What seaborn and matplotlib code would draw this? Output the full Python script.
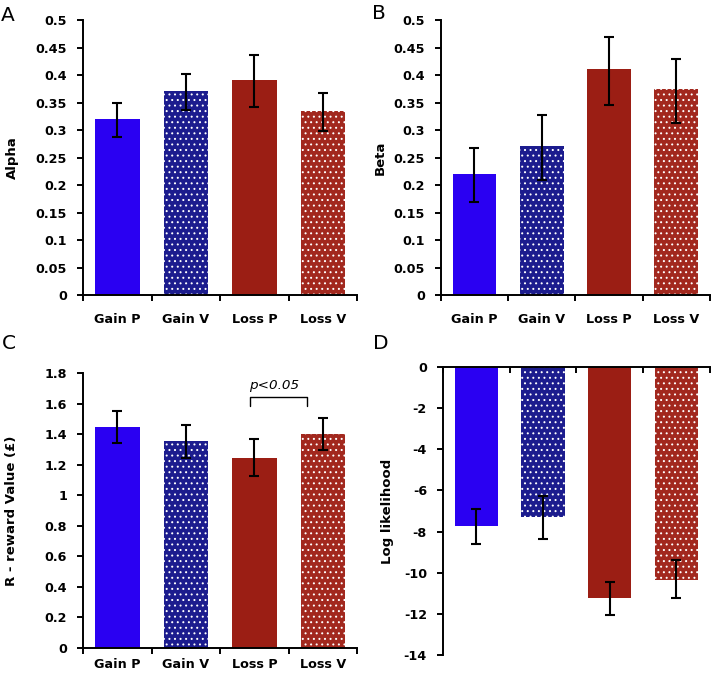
import numpy as np
import pandas as pd
import matplotlib
matplotlib.use("Agg")
import matplotlib.pyplot as plt
import seaborn as sns

groups = ["Gain P", "Gain V", "Loss P", "Loss V"]
colors = ["#2a00f2", "#1c1c8e", "#9b1e14", "#a2281e"]
dotted = [False, True, False, True]

alpha_mean = [0.320, 0.372, 0.392, 0.335]
alpha_low = [0.287, 0.337, 0.342, 0.298]
alpha_high = [0.350, 0.403, 0.436, 0.367]

beta_mean = [0.221, 0.271, 0.411, 0.375]
beta_low = [0.170, 0.210, 0.345, 0.313]
beta_high = [0.267, 0.328, 0.470, 0.430]

r_mean = [1.450, 1.355, 1.245, 1.405]
r_low = [1.340, 1.245, 1.125, 1.300]
r_high = [1.555, 1.460, 1.370, 1.510]

ll_mean = [-7.75, -7.30, -11.25, -10.35]
ll_low = [-8.60, -8.35, -12.05, -11.25]
ll_high = [-6.90, -6.25, -10.45, -9.40]

sns.set_style("ticks")
plt.rcParams["font.family"] = ["DejaVu Sans"]
plt.rcParams["axes.unicode_minus"] = False
plt.rcParams["hatch.linewidth"] = 0.7

fig = plt.figure(figsize=(7.12, 6.75), dpi=100)

panels = [
    dict(rect=[0.1166, 0.563, 0.385, 0.407], mean=alpha_mean, low=alpha_low, high=alpha_high,
         ylim=(0, 0.5), yticks=np.arange(0, 0.501, 0.05), ylabel="Alpha", letter="A", neg=False,
         labx=-0.234, xpad=13),
    dict(rect=[0.619, 0.563, 0.378, 0.407], mean=beta_mean, low=beta_low, high=beta_high,
         ylim=(0, 0.5), yticks=np.arange(0, 0.501, 0.05), ylabel="Beta", letter="B", neg=False,
         labx=-0.20, xpad=13),
    dict(rect=[0.1166, 0.040, 0.385, 0.407], mean=r_mean, low=r_low, high=r_high,
         ylim=(0, 1.8), yticks=np.arange(0, 1.801, 0.2), ylabel="R - reward Value (£)", letter="C", neg=False,
         labx=-0.237, xpad=7),
    dict(rect=[0.622, 0.0296, 0.375, 0.4267], mean=ll_mean, low=ll_low, high=ll_high,
         ylim=(-14, 0), yticks=np.arange(-14, 0.01, 2), ylabel="Log likelihood", letter="D", neg=True,
         labx=-0.183, xpad=7),
]

letter_pos = {"A": (1 / 712, 1 - 6 / 675), "B": (372 / 712, 1 - 4 / 675),
              "C": (2 / 712, 1 - 334 / 675), "D": (373 / 712, 1 - 334 / 675)}

for p in panels:
    ax = fig.add_axes(p["rect"])
    df = pd.DataFrame({"group": groups, "value": p["mean"]})
    sns.barplot(data=df, x="group", y="value", hue="group", palette=colors, order=groups,
                hue_order=groups, width=0.65, saturation=1, legend=False, ax=ax,
                errorbar=None)
    for patch, d in zip(ax.patches, dotted):
        patch.set_linewidth(0)
        if d:
            patch.set_hatch("...")
            patch.set_edgecolor("white")
    mean = np.array(p["mean"]); low = np.array(p["low"]); high = np.array(p["high"])
    ax.errorbar(np.arange(4), mean, yerr=[mean - low, high - mean], fmt="none",
                ecolor="black", elinewidth=1.5, capsize=3.8, capthick=1.5, zorder=5)
    ax.set_xlim(-0.5, 3.5)
    ax.set_ylim(*p["ylim"])
    ax.set_yticks(p["yticks"])
    ax.set_yticklabels([f"{v:g}" for v in p["yticks"]], fontweight="bold", fontsize=9.2, color="black")
    ax.set_xticks([0, 1, 2, 3])
    ax.set_xticklabels(groups, fontweight="bold", fontsize=9.2, color="black")
    ax.set_xticks([-0.5, 0.5, 1.5, 2.5, 3.5], minor=True)
    ax.tick_params(axis="x", which="major", length=0, pad=p["xpad"])
    ax.tick_params(axis="x", which="minor", length=4.5, width=1.4, direction="out", color="black")
    ax.tick_params(axis="y", length=4.5, width=1.4, direction="out", color="black", pad=7)
    sns.despine(ax=ax)
    ax.spines["left"].set_linewidth(1.4)
    ax.spines["bottom"].set_linewidth(1.4)
    ax.spines["left"].set_color("black")
    ax.spines["bottom"].set_color("black")
    ax.set_xlabel("")
    ax.set_ylabel(p["ylabel"], fontsize=9.5, fontweight="bold", color="black")
    ax.yaxis.set_label_coords(p["labx"], 0.5)
    if p["neg"]:
        ax.spines["bottom"].set_position(("data", 0))
        ax.tick_params(axis="x", which="both", labelbottom=False)
    lx, ly = letter_pos[p["letter"]]
    fig.text(lx, ly, p["letter"], fontsize=14.5, ha="left", va="top", color="black")
    if p["letter"] == "C":
        x0, x1, yb, yt = 1.94, 2.77, 1.585, 1.643
        ax.plot([x0, x0, x1, x1], [yb, yt, yt, yb], color="black", lw=1.0)
        ax.text(2.29, 1.695, "p<0.05", fontsize=9.7, fontstyle="italic",
                ha="center", va="baseline", color="black")

fig.savefig("out.png", dpi=100)
